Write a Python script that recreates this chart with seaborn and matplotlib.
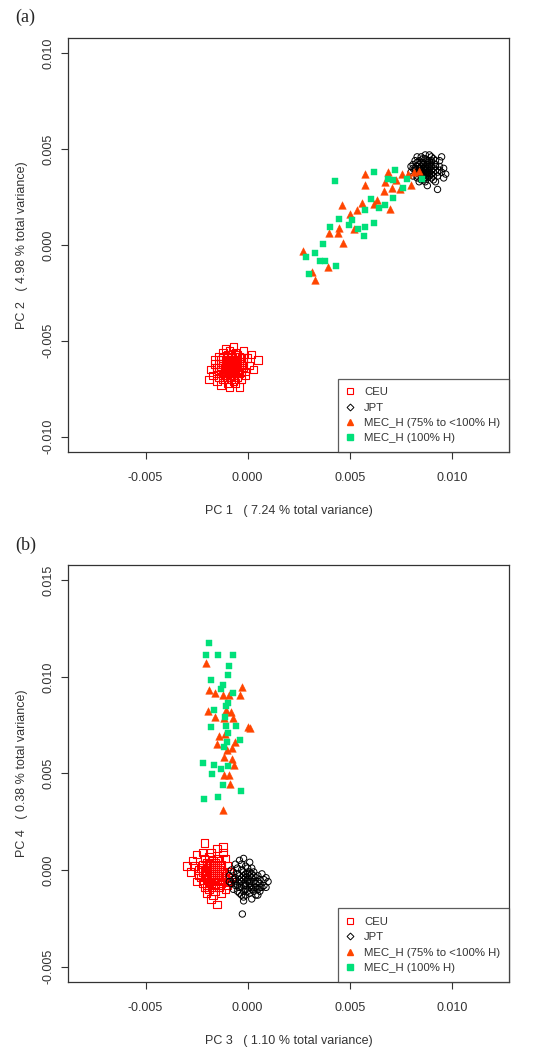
import numpy as np
import pandas as pd
import matplotlib
matplotlib.use('Agg')
import matplotlib.pyplot as plt
from matplotlib.lines import Line2D
import seaborn as sns

# ---------------- data ----------------
# panel (a): PC1 vs PC2
ceu_a_x = [-0.00075, -0.0009, -0.0006, -0.0011, -0.0004, -0.0008, -0.0013, -0.0002, -0.0010, -0.0005,
           -0.0015, -0.0007, -0.0012, -0.0001, -0.0003, -0.0009, -0.0016, -0.0006, -0.0011, -0.0008,
           -0.0004, -0.0013, -0.0010, -0.0005, -0.0002, 0.0001, -0.0014, -0.0007, -0.0011, -0.0019,
           -0.0017, -0.0013, -0.0009, -0.0004, 0.0005, 0.0002, -0.0012, -0.0006, -0.0008, -0.0003,
           -0.0010, -0.0015, -0.0007, -0.0005, -0.0009, -0.0012, -0.0001, -0.0003, -0.0016, -0.0014,
           -0.0006, -0.0002, -0.0010, -0.0008, -0.0011, -0.0004, -0.0007, 0.0000, -0.0013, -0.0005,
           -0.0009, -0.0012, -0.0018, -0.0006, 0.0003, -0.0003, -0.0015, -0.0008, -0.0011, -0.0007,
           -0.0008, -0.0006, -0.0010, -0.0007, -0.0009, -0.0005, -0.0012, -0.0004, -0.0011, -0.0003,
           -0.0014, -0.0008, -0.0006, -0.0010, -0.0002, -0.0013, -0.0007, -0.0009, -0.0005, -0.0011]
ceu_a_y = [-0.0064, -0.0062, -0.0066, -0.0065, -0.0061, -0.0068, -0.0060, -0.0064, -0.0058, -0.0057,
           -0.0066, -0.0071, -0.0070, -0.0068, -0.0059, -0.0055, -0.0062, -0.0060, -0.0063, -0.0066,
           -0.0065, -0.0067, -0.0069, -0.0069, -0.0061, -0.0063, -0.0058, -0.0053, -0.0054, -0.0070,
           -0.0068, -0.0073, -0.0074, -0.0074, -0.0060, -0.0057, -0.0056, -0.0062, -0.0059, -0.0066,
           -0.0061, -0.0064, -0.0065, -0.0063, -0.0067, -0.0062, -0.0066, -0.0070, -0.0060, -0.0069,
           -0.0056, -0.0055, -0.0072, -0.0061, -0.0066, -0.0058, -0.0068, -0.0059, -0.0064, -0.0067,
           -0.0064, -0.0068, -0.0065, -0.0072, -0.0065, -0.0062, -0.0071, -0.0057, -0.0060, -0.0063,
           -0.0063, -0.0064, -0.0065, -0.0060, -0.0069, -0.0061, -0.0059, -0.0067, -0.0068, -0.0063,
           -0.0062, -0.0070, -0.0058, -0.0057, -0.0059, -0.0065, -0.0067, -0.0060, -0.0065, -0.0063]

jpt_a_x = [0.0087, 0.0085, 0.0089, 0.0083, 0.0091, 0.0086, 0.0088, 0.0084, 0.0090, 0.0082,
           0.0092, 0.0087, 0.0085, 0.0089, 0.0083, 0.0093, 0.0086, 0.0088, 0.0084, 0.0090,
           0.0081, 0.0091, 0.0087, 0.0094, 0.0096, 0.0095, 0.0089, 0.0085, 0.0082, 0.0080,
           0.0092, 0.0093, 0.0088, 0.0097, 0.0086, 0.0084, 0.0090, 0.0088, 0.0083, 0.0087,
           0.0085, 0.0089, 0.0091, 0.0086, 0.0092, 0.0084, 0.0081, 0.0094, 0.0090, 0.0087,
           0.0083, 0.0088, 0.0086, 0.0089, 0.0085, 0.0082, 0.0093, 0.0091, 0.0087, 0.0095,
           0.0084, 0.0090, 0.0086, 0.0088, 0.0083, 0.0092, 0.0096, 0.0080, 0.0089, 0.0085,
           0.0086, 0.0088, 0.0087, 0.0085, 0.0089, 0.0084, 0.0090, 0.0086, 0.0088, 0.0083,
           0.0091, 0.0087, 0.0089, 0.0085, 0.0092, 0.0081, 0.0094, 0.0086, 0.0088, 0.0090]
jpt_a_y = [0.0039, 0.0041, 0.0037, 0.0038, 0.0040, 0.0036, 0.0043, 0.0042, 0.0035, 0.0040,
           0.0042, 0.0045, 0.0034, 0.0041, 0.0035, 0.0038, 0.0040, 0.0038, 0.0037, 0.0043,
           0.0042, 0.0036, 0.0033, 0.0044, 0.0040, 0.0046, 0.0047, 0.0046, 0.0044, 0.0038,
           0.0033, 0.0029, 0.0031, 0.0037, 0.0043, 0.0040, 0.0039, 0.0035, 0.0036, 0.0041,
           0.0038, 0.0044, 0.0034, 0.0037, 0.0039, 0.0044, 0.0036, 0.0041, 0.0046, 0.0047,
           0.0046, 0.0040, 0.0034, 0.0039, 0.0036, 0.0039, 0.0036, 0.0045, 0.0037, 0.0038,
           0.0033, 0.0041, 0.0045, 0.0042, 0.0041, 0.0044, 0.0035, 0.0041, 0.0036, 0.0039,
           0.0038, 0.0037, 0.0040, 0.0040, 0.0038, 0.0039, 0.0037, 0.0042, 0.0044, 0.0043,
           0.0038, 0.0035, 0.0042, 0.0043, 0.0041, 0.0040, 0.0039, 0.0039, 0.0036, 0.0044]

mec75_a_x = [0.00575, 0.00685, 0.00575, 0.00672, 0.00729, 0.00755, 0.00783, 0.00815, 0.00802, 0.00670,
             0.00709, 0.00747, 0.00464, 0.00562, 0.00538, 0.00619, 0.00632, 0.00695, 0.00502, 0.00448,
             0.00400, 0.00443, 0.00523, 0.00467, 0.00273, 0.00394, 0.00314, 0.00332, 0.00840]
mec75_a_y = [0.00368, 0.00382, 0.00311, 0.00328, 0.00339, 0.00370, 0.00370, 0.00382, 0.00314, 0.00283,
             0.00295, 0.00293, 0.00210, 0.00217, 0.00182, 0.00212, 0.00234, 0.00186, 0.00160, 0.00087,
             0.00061, 0.00063, 0.00083, 0.00009, -0.00033, -0.00113, -0.00139, -0.00182, 0.00385]

mec100_a_x = [0.00428, 0.00619, 0.00722, 0.00685, 0.00714, 0.00779, 0.00763, 0.00854, 0.00714, 0.00606,
              0.00574, 0.00641, 0.00675, 0.00445, 0.00510, 0.00495, 0.00402, 0.00541, 0.00577, 0.00619,
              0.00572, 0.00368, 0.00332, 0.00288, 0.00354, 0.00379, 0.00431, 0.00300]
mec100_a_y = [0.00332, 0.00379, 0.00392, 0.00347, 0.00339, 0.00345, 0.00295, 0.00345, 0.00245, 0.00241,
              0.00182, 0.00193, 0.00207, 0.00135, 0.00130, 0.00106, 0.00092, 0.00085, 0.00094, 0.00116,
              0.00045, 0.00004, -0.00043, -0.00064, -0.00085, -0.00082, -0.00109, -0.00151]

# panel (b): PC3 vs PC4
ceu_b_x = [-0.0017, -0.0019, -0.0015, -0.0021, -0.0013, -0.0018, -0.0022, -0.0016, -0.0011, -0.0014,
           -0.0020, -0.0024, -0.0012, -0.0017, -0.0019, -0.0023, -0.0009, -0.0015, -0.0021, -0.0026,
           -0.0030, -0.0028, -0.0021, -0.0015, -0.0012, -0.0018, -0.0025, -0.0015, -0.0017, -0.0013,
           -0.0020, -0.0010, -0.0008, -0.0016, -0.0018, -0.0014, -0.0020, -0.0016, -0.0022, -0.0012,
           -0.0019, -0.0013, -0.0024, -0.0010, -0.0017, -0.0014, -0.0027, -0.0022, -0.0019, -0.0011,
           -0.0016, -0.0018, -0.0015, -0.0020, -0.0023, -0.0013, -0.0009, -0.0021, -0.0016, -0.0018,
           -0.0012, -0.0025, -0.0011, -0.0017, -0.0014, -0.0019, -0.0020, -0.0015, -0.0016, -0.0013,
           -0.0018, -0.0016, -0.0019, -0.0014, -0.0021, -0.0017, -0.0015, -0.0020, -0.0013, -0.0022,
           -0.0017, -0.0019, -0.0016, -0.0014, -0.0018]
ceu_b_y = [-0.0003, 0.0000, -0.0005, -0.0002, 0.0001, -0.0007, 0.0003, 0.0004, -0.0003, -0.0009,
           -0.0005, 0.0000, -0.0006, 0.0002, -0.0010, -0.0004, -0.0001, 0.0006, 0.0006, 0.0002,
           0.0002, -0.0001, 0.0014, 0.0011, 0.0009, 0.0009, 0.0008, -0.0018, -0.0013, -0.0012,
           -0.0012, -0.0008, -0.0004, -0.0002, 0.0001, -0.0002, -0.0001, -0.0006, -0.0007, -0.0001,
           0.0003, 0.0003, -0.0003, 0.0002, -0.0009, 0.0005, 0.0005, 0.0009, 0.0007, 0.0006,
           0.0000, -0.0004, -0.0001, 0.0002, 0.0001, -0.0004, -0.0006, -0.0009, -0.0011, -0.0015,
           0.0012, -0.0006, -0.0010, 0.0005, 0.0000, -0.0003, 0.0004, 0.0002, -0.0004, -0.0007,
           -0.0002, 0.0001, -0.0006, -0.0003, 0.0000, -0.0005, 0.0003, -0.0008, -0.0002, -0.0001,
           -0.0001, 0.0002, -0.0008, -0.0005, 0.0004]

jpt_b_x = [0.0000, -0.0002, 0.0002, -0.0004, 0.0004, -0.0001, 0.0003, -0.0006, -0.0003, 0.0001,
           0.0006, -0.0005, -0.0007, 0.0005, -0.0002, 0.0008, 0.0009, 0.0010, -0.0004, -0.0002,
           -0.0006, -0.0008, -0.0009, -0.0002, 0.0002, -0.0004, 0.0000, 0.0002, -0.0001, 0.0003,
           -0.0003, 0.0001, -0.0005, 0.0007, 0.0004, -0.0007, 0.0006, -0.0001, 0.0002, -0.0003,
           0.0001, -0.0006, 0.0005, -0.0002, 0.0003, -0.0004, 0.0000, -0.0008, 0.0008, -0.0001,
           0.0004, -0.0005, 0.0002, -0.0003, 0.0006, -0.0007, 0.0001, -0.0002, 0.0003, -0.0004,
           0.0000, 0.0007, -0.0006, 0.0005, -0.0001, 0.0009, -0.0009, 0.0001, -0.0003, -0.00026,
           0.0000, -0.0001, 0.0001, -0.0002, 0.0002, -0.0003, 0.0003, -0.0004, 0.0004, -0.0001,
           0.0005, -0.0005, 0.0006, -0.0002, 0.0001]
jpt_b_y = [-0.0006, -0.0003, -0.0008, -0.0005, -0.0004, -0.0010, -0.0001, -0.0008, 0.0000, -0.0012,
           -0.0007, -0.0002, -0.0005, -0.0010, -0.0014, -0.0005, -0.0009, -0.0006, 0.0005, 0.0006,
           0.0003, 0.0000, -0.0003, -0.0016, -0.0015, -0.0012, -0.0002, -0.0004, -0.0007, -0.0006,
           -0.0009, -0.0003, -0.0011, -0.0002, -0.0013, -0.0001, -0.0011, 0.0002, 0.0001, -0.0006,
           -0.0009, -0.0006, -0.0003, -0.0008, -0.0009, -0.0003, -0.0011, -0.0007, -0.0008, -0.0004,
           -0.0007, 0.0001, -0.0002, -0.0013, -0.0005, -0.0010, -0.0006, -0.0001, -0.0011, -0.0009,
           0.0001, -0.0009, -0.0004, -0.0013, -0.0013, -0.0004, -0.0006, 0.0004, 0.0003, -0.00228,
           -0.0005, -0.0008, -0.0007, -0.0005, -0.0010, -0.0004, -0.0003, -0.0007, -0.0009, -0.0002,
           -0.0006, -0.0008, -0.0009, -0.0011, -0.0001]

mec75_b_x = [-0.00204, -0.00188, -0.00162, -0.00121, -0.00090, -0.00026, -0.00038, -0.00196, -0.00104, -0.00080,
             -0.00158, -0.00118, -0.00070, 0.00003, 0.00011, -0.00142, -0.00109, -0.00152, -0.00064, -0.00101,
             -0.00075, -0.00116, -0.00075, -0.00069, -0.00114, -0.00090, -0.00088, -0.00121]
mec75_b_y = [0.01074, 0.00934, 0.00915, 0.00907, 0.00905, 0.00946, 0.00905, 0.00822, 0.00829, 0.00817,
             0.00794, 0.00786, 0.00788, 0.00741, 0.00736, 0.00694, 0.00705, 0.00651, 0.00663, 0.00620,
             0.00630, 0.00587, 0.00574, 0.00544, 0.00494, 0.00494, 0.00446, 0.00311]

mec100_b_x = [-0.00190, -0.00206, -0.00146, -0.00070, -0.00090, -0.00098, -0.00180, -0.00123, -0.00131, -0.00074,
              -0.00095, -0.00108, -0.00165, -0.00113, -0.00180, -0.00106, -0.00057, -0.00098, -0.00103, -0.00114,
              -0.00039, -0.00221, -0.00167, -0.00095, -0.00131, -0.00173, -0.00119, -0.00034, -0.00146, -0.00216]
mec100_b_y = [0.01176, 0.01114, 0.01114, 0.01115, 0.01058, 0.01009, 0.00983, 0.00957, 0.00936, 0.00917,
              0.00867, 0.00850, 0.00828, 0.00794, 0.00739, 0.00747, 0.00744, 0.00708, 0.00661, 0.00639,
              0.00675, 0.00556, 0.00545, 0.00537, 0.00523, 0.00499, 0.00440, 0.00409, 0.00378, 0.00369]

group_names = ['CEU', 'JPT', 'MEC_H (75% to <100% H)', 'MEC_H (100% H)']
x_labels = ['PC 1   ( 7.24 % total variance)', 'PC 3   ( 1.10 % total variance)']
y_labels = ['PC 2   ( 4.98 % total variance)', 'PC 4   ( 0.38 % total variance)']
panel_tags = ['(a)', '(b)']
x_ticks = [-0.005, 0.000, 0.005, 0.010]
y_ticks_a = [-0.010, -0.005, 0.000, 0.005, 0.010]
y_ticks_b = [-0.005, 0.000, 0.005, 0.010, 0.015]

# ---------------- styling ----------------
sns.set_style('white')
plt.rcParams['font.family'] = ['Liberation Sans', 'DejaVu Sans']
txt = '#333333'
red = '#FF0000'
orange = '#FF4500'
green = '#00E07A'


def make_df(xs, ys, name):
    return pd.DataFrame({'x': xs, 'y': ys, 'group': name})


fig = plt.figure(figsize=(5.47, 10.5), dpi=100)
ax_a = fig.add_axes([0.1243, 0.5695, 0.8062, 0.3943])
ax_b = fig.add_axes([0.1243, 0.0648, 0.8062, 0.3971])

panels = [
    (ax_a, [(ceu_a_x, ceu_a_y), (jpt_a_x, jpt_a_y), (mec75_a_x, mec75_a_y), (mec100_a_x, mec100_a_y)],
     y_ticks_a, (-0.0108, 0.0108)),
    (ax_b, [(ceu_b_x, ceu_b_y), (jpt_b_x, jpt_b_y), (mec75_b_x, mec75_b_y), (mec100_b_x, mec100_b_y)],
     y_ticks_b, (-0.0058, 0.0158)),
]

for i, (ax, series, yt, ylim) in enumerate(panels):
    ceu = make_df(*series[0], group_names[0])
    jpt = make_df(*series[1], group_names[1])
    m75 = make_df(*series[2], group_names[2])
    m100 = make_df(*series[3], group_names[3])

    # draw order as in the original: CEU, JPT, then the two MEC groups
    sns.scatterplot(data=ceu, x='x', y='y', ax=ax, marker='s', s=28,
                    facecolor='none', edgecolor=red, linewidth=0.8, legend=False)
    sns.scatterplot(data=jpt, x='x', y='y', ax=ax, marker='o', s=21,
                    facecolor='none', edgecolor='black', linewidth=0.7, legend=False)
    sns.scatterplot(data=m75, x='x', y='y', ax=ax, marker='^', s=30,
                    color=orange, edgecolor=orange, linewidth=0.3, legend=False)
    sns.scatterplot(data=m100, x='x', y='y', ax=ax, marker='s', s=21,
                    color=green, edgecolor=green, linewidth=0.3, legend=False)

    ax.set_xlim(-0.0088, 0.0128)
    ax.set_ylim(*ylim)
    ax.set_xticks(x_ticks)
    ax.set_xticklabels(['%.3f' % v for v in x_ticks])
    ax.set_yticks(yt)
    ax.set_yticklabels(['%.3f' % v for v in yt], rotation=90, va='center')
    ax.tick_params(axis='both', direction='out', length=5, width=0.8, colors=txt,
                   labelsize=9, left=True, bottom=True)
    ax.tick_params(axis='x', pad=9.5)
    ax.tick_params(axis='y', pad=4.5)
    for sp in ax.spines.values():
        sp.set_color(txt)
        sp.set_linewidth(0.9)
    ax.set_xlabel(x_labels[i], fontsize=9, color=txt, labelpad=15)
    ax.set_ylabel(y_labels[i], fontsize=9, color=txt, labelpad=11)

    handles = [
        Line2D([], [], linestyle='none', marker='s', markersize=4.5, markerfacecolor='none',
               markeredgecolor=red, markeredgewidth=0.8),
        Line2D([], [], linestyle='none', marker='D', markersize=3.5, markerfacecolor='none',
               markeredgecolor='black', markeredgewidth=0.7),
        Line2D([], [], linestyle='none', marker='^', markersize=4.5, color=orange),
        Line2D([], [], linestyle='none', marker='s', markersize=4, color=green),
    ]
    leg = ax.legend(handles, group_names, loc='lower right', borderaxespad=0, frameon=True,
                    fancybox=False, fontsize=8.2, handlelength=0.6, handletextpad=1.0,
                    borderpad=0.75, labelspacing=0.48)
    leg.get_frame().set_edgecolor(txt)
    leg.get_frame().set_linewidth(0.9)
    for t in leg.get_texts():
        t.set_color(txt)

fig.text(15 / 547, 1 - 17 / 1050, panel_tags[0], fontsize=13, family='Liberation Serif',
         va='center', ha='left')
fig.text(15 / 547, 1 - 545 / 1050, panel_tags[1], fontsize=13, family='Liberation Serif',
         va='center', ha='left')

fig.savefig('out.png', dpi=100)
